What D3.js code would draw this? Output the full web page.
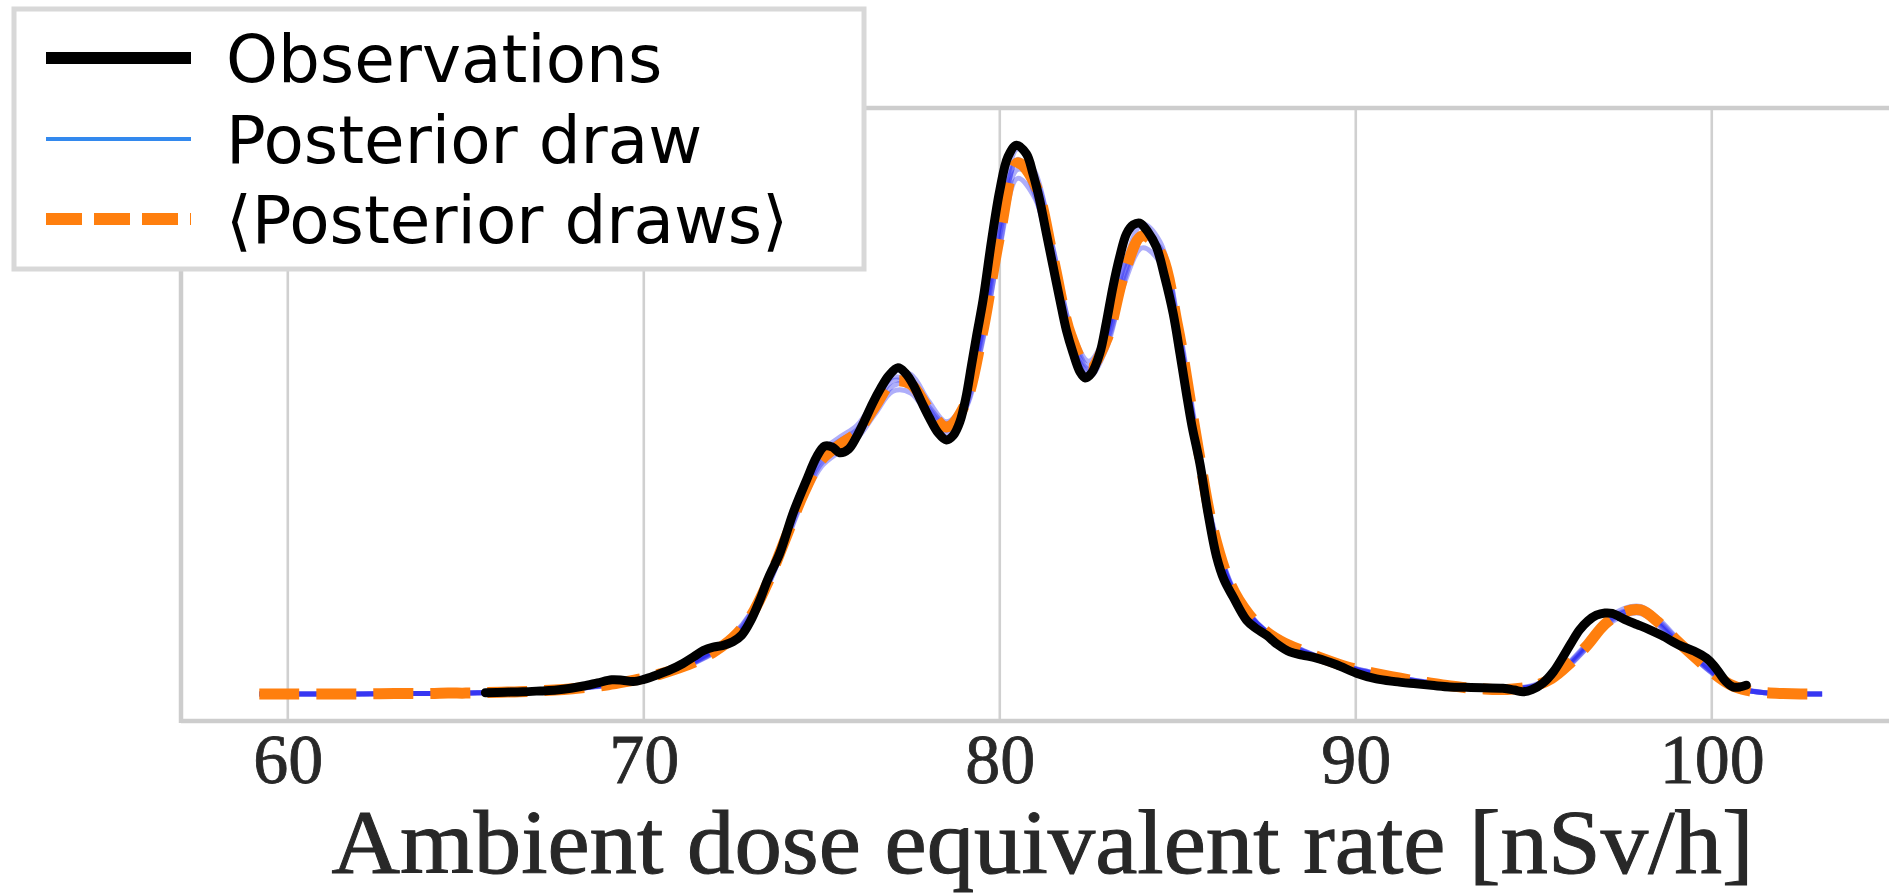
<!DOCTYPE html>
<html>
<head>
<meta charset="utf-8">
<script src="https://cdn.jsdelivr.net/npm/d3@7"></script>
<style>
  html, body { margin: 0; padding: 0; background: #ffffff; }
  svg { display: block; }
</style>
</head>
<body>
<script>
// Dose-rate density: observed KDE, posterior draws and their mean.

// Common evaluation grid for the model curves (nSv/h)
const gridX = [
  59.2, 60, 61, 62, 63, 64, 64.5, 65, 65.5, 66,
  66.5, 67, 67.5, 68, 68.5, 69, 69.5, 70, 70.5, 71,
  71.5, 72, 72.5, 73, 73.5, 74, 74.5, 75, 75.5, 76,
  76.5, 77, 77.5, 78, 78.5, 79, 79.5, 80, 80.5, 81,
  81.5, 82, 82.5, 83, 83.5, 84, 84.5, 85, 85.5, 86,
  86.5, 87, 87.5, 88, 88.5, 89, 89.5, 90, 90.5, 91,
  91.5, 92, 92.5, 93, 93.5, 94, 94.5, 95, 95.5, 96,
  96.5, 97, 97.5, 98, 98.5, 99, 99.5, 100, 100.5, 101,
  101.5, 102, 102.5, 103.1
];

// Mean of the posterior draws
const meanDraws = [
  0.0000, 0.0000, 0.0000, 0.0000, 0.0001, 0.0001, 0.0002, 0.0002, 0.0003, 0.0004,
  0.0005, 0.0007, 0.0009, 0.0012, 0.0016, 0.0021, 0.0028, 0.0036, 0.0046, 0.0059,
  0.0075, 0.0097, 0.0127, 0.0175, 0.0255, 0.0355, 0.0455, 0.0530, 0.0563, 0.0592,
  0.0650, 0.0705, 0.0700, 0.0645, 0.0603, 0.0650, 0.0810, 0.1035, 0.1200, 0.1150,
  0.0985, 0.0810, 0.0735, 0.0800, 0.0950, 0.1035, 0.1000, 0.0830, 0.0590, 0.0370,
  0.0245, 0.0180, 0.0140, 0.0115, 0.0098, 0.0082, 0.0068, 0.0056, 0.0047, 0.0039,
  0.0032, 0.0026, 0.0020, 0.0015, 0.0012, 0.0010, 0.0012, 0.0018, 0.0035, 0.0068,
  0.0110, 0.0158, 0.0184, 0.0190, 0.0162, 0.0122, 0.0085, 0.0050, 0.0022, 0.0008,
  0.0003, 0.0001, 0.0000, 0.0000
];

// Individual posterior draws
const drawA = [
  0.0000, 0.0000, 0.0000, 0.0000, 0.0001, 0.0001, 0.0002, 0.0002, 0.0003, 0.0004,
  0.0005, 0.0007, 0.0010, 0.0013, 0.0017, 0.0022, 0.0029, 0.0037, 0.0047, 0.0060,
  0.0078, 0.0101, 0.0133, 0.0183, 0.0265, 0.0368, 0.0470, 0.0548, 0.0580, 0.0608,
  0.0668, 0.0728, 0.0722, 0.0662, 0.0615, 0.0660, 0.0822, 0.1060, 0.1232, 0.1178,
  0.1005, 0.0825, 0.0752, 0.0818, 0.0972, 0.1062, 0.1022, 0.0840, 0.0592, 0.0368,
  0.0243, 0.0179, 0.0141, 0.0116, 0.0099, 0.0083, 0.0069, 0.0057, 0.0048, 0.0040,
  0.0033, 0.0027, 0.0021, 0.0016, 0.0012, 0.0010, 0.0012, 0.0019, 0.0036, 0.0070,
  0.0113, 0.0164, 0.0192, 0.0198, 0.0170, 0.0128, 0.0088, 0.0052, 0.0023, 0.0008,
  0.0003, 0.0001, 0.0000, 0.0000
];
const drawB = [
  0.0000, 0.0000, 0.0000, 0.0000, 0.0001, 0.0001, 0.0001, 0.0002, 0.0003, 0.0004,
  0.0005, 0.0006, 0.0008, 0.0011, 0.0015, 0.0020, 0.0026, 0.0034, 0.0044, 0.0057,
  0.0073, 0.0094, 0.0122, 0.0168, 0.0246, 0.0344, 0.0442, 0.0515, 0.0548, 0.0578,
  0.0633, 0.0684, 0.0680, 0.0628, 0.0588, 0.0638, 0.0795, 0.1010, 0.1165, 0.1118,
  0.0962, 0.0792, 0.0716, 0.0782, 0.0928, 0.1008, 0.0975, 0.0818, 0.0585, 0.0372,
  0.0247, 0.0181, 0.0139, 0.0113, 0.0096, 0.0080, 0.0066, 0.0055, 0.0046, 0.0038,
  0.0031, 0.0025, 0.0019, 0.0014, 0.0011, 0.0010, 0.0012, 0.0017, 0.0033, 0.0065,
  0.0106, 0.0151, 0.0176, 0.0182, 0.0156, 0.0118, 0.0082, 0.0048, 0.0021, 0.0008,
  0.0003, 0.0001, 0.0000, 0.0000
];
const drawC = [
  0.0000, 0.0000, 0.0000, 0.0000, 0.0001, 0.0001, 0.0002, 0.0002, 0.0003, 0.0004,
  0.0005, 0.0007, 0.0009, 0.0012, 0.0016, 0.0021, 0.0028, 0.0036, 0.0047, 0.0060,
  0.0077, 0.0100, 0.0131, 0.0182, 0.0266, 0.0366, 0.0462, 0.0540, 0.0572, 0.0598,
  0.0662, 0.0716, 0.0702, 0.0640, 0.0596, 0.0662, 0.0840, 0.1062, 0.1205, 0.1125,
  0.0955, 0.0792, 0.0728, 0.0812, 0.0968, 0.1040, 0.0985, 0.0810, 0.0575, 0.0362,
  0.0242, 0.0178, 0.0139, 0.0114, 0.0097, 0.0081, 0.0067, 0.0055, 0.0046, 0.0038,
  0.0031, 0.0025, 0.0020, 0.0015, 0.0012, 0.0011, 0.0013, 0.0020, 0.0038, 0.0072,
  0.0115, 0.0162, 0.0186, 0.0188, 0.0158, 0.0118, 0.0082, 0.0048, 0.0021, 0.0008,
  0.0003, 0.0001, 0.0000, 0.0000
];
const drawD = [
  0.0000, 0.0000, 0.0000, 0.0000, 0.0001, 0.0001, 0.0001, 0.0002, 0.0003, 0.0003,
  0.0004, 0.0006, 0.0008, 0.0011, 0.0015, 0.0020, 0.0027, 0.0035, 0.0045, 0.0058,
  0.0074, 0.0095, 0.0124, 0.0170, 0.0246, 0.0345, 0.0448, 0.0522, 0.0556, 0.0588,
  0.0640, 0.0696, 0.0700, 0.0650, 0.0610, 0.0640, 0.0790, 0.1012, 0.1185, 0.1160,
  0.1005, 0.0822, 0.0740, 0.0792, 0.0935, 0.1030, 0.1010, 0.0845, 0.0602, 0.0378,
  0.0248, 0.0182, 0.0141, 0.0116, 0.0099, 0.0083, 0.0069, 0.0057, 0.0048, 0.0040,
  0.0033, 0.0027, 0.0021, 0.0016, 0.0012, 0.0010, 0.0011, 0.0016, 0.0032, 0.0064,
  0.0105, 0.0153, 0.0182, 0.0192, 0.0166, 0.0126, 0.0088, 0.0052, 0.0023, 0.0009,
  0.0003, 0.0001, 0.0000, 0.0000
];
const drawE = [
  0.0000, 0.0000, 0.0000, 0.0000, 0.0001, 0.0001, 0.0002, 0.0002, 0.0003, 0.0004,
  0.0005, 0.0007, 0.0009, 0.0012, 0.0016, 0.0021, 0.0028, 0.0036, 0.0046, 0.0059,
  0.0075, 0.0098, 0.0128, 0.0176, 0.0256, 0.0354, 0.0456, 0.0532, 0.0566, 0.0594,
  0.0652, 0.0708, 0.0698, 0.0644, 0.0604, 0.0652, 0.0812, 0.1038, 0.1208, 0.1152,
  0.0982, 0.0808, 0.0734, 0.0798, 0.0948, 0.1036, 0.1002, 0.0832, 0.0592, 0.0370,
  0.0245, 0.0180, 0.0140, 0.0115, 0.0098, 0.0082, 0.0068, 0.0056, 0.0047, 0.0039,
  0.0032, 0.0026, 0.0020, 0.0015, 0.0012, 0.0010, 0.0012, 0.0018, 0.0035, 0.0068,
  0.0110, 0.0158, 0.0184, 0.0190, 0.0162, 0.0122, 0.0085, 0.0050, 0.0022, 0.0008,
  0.0003, 0.0001, 0.0000, 0.0000
];

// Observed density
const obsX = [
  65.55, 66.1, 66.6, 67.1, 67.55, 67.95, 68.3, 68.7, 69.1, 69.4,
  69.7, 70.0, 70.36, 70.75, 71.1, 71.4, 71.67, 71.95, 72.23, 72.5,
  72.75, 73.0, 73.25, 73.5, 73.82, 74.2, 74.57, 74.85, 75.08, 75.3,
  75.5, 75.75, 75.97, 76.2, 76.43, 76.65, 76.87, 77.14, 77.35, 77.56,
  77.8, 78.03, 78.27, 78.5, 78.7, 78.88, 79.05, 79.2, 79.35, 79.53,
  79.77, 80.0, 80.23, 80.47, 80.75, 80.93, 81.12, 81.31, 81.5, 81.69,
  81.87, 82.06, 82.25, 82.4, 82.58, 82.81, 82.99, 83.18, 83.37, 83.56,
  83.75, 83.93, 84.16, 84.4, 84.63, 84.87, 85.06, 85.24, 85.4, 85.62,
  85.85, 86.09, 86.3, 86.55, 86.93, 87.2, 87.49, 87.8, 88.15, 88.5,
  88.9, 89.46, 90.02, 90.58, 91.1, 91.7, 92.2, 92.64, 93.1, 93.57,
  94.13, 94.45, 94.7, 94.95, 95.26, 95.55, 95.82, 96.05, 96.29, 96.52,
  96.76, 97.0, 97.2, 97.4, 97.6, 97.9, 98.26, 98.6, 99.1, 99.5,
  99.85, 100.05, 100.22, 100.4, 100.6, 100.8, 100.97
];
const obsY = [
  0.0003, 0.0004, 0.0005, 0.0007, 0.0009, 0.0013, 0.0018, 0.0025, 0.0032, 0.0031,
  0.0028, 0.0033, 0.0043, 0.0055, 0.0069, 0.0084, 0.0098, 0.0106, 0.0110, 0.0118,
  0.0133, 0.0165, 0.0210, 0.0262, 0.0318, 0.0410, 0.0483, 0.0535, 0.0560, 0.0558,
  0.0545, 0.0553, 0.0580, 0.0617, 0.0657, 0.0690, 0.0718, 0.0737, 0.0725, 0.0700,
  0.0660, 0.0623, 0.0590, 0.0574, 0.0585, 0.0615, 0.0670, 0.0740, 0.0810, 0.0890,
  0.1025, 0.1138, 0.1214, 0.1240, 0.1220, 0.1176, 0.1116, 0.1040, 0.0965, 0.0890,
  0.0822, 0.0770, 0.0728, 0.0714, 0.0725, 0.0770, 0.0838, 0.0920, 0.0988, 0.1040,
  0.1060, 0.1064, 0.1044, 0.1010, 0.0943, 0.0860, 0.0770, 0.0680, 0.0605, 0.0521,
  0.0408, 0.0310, 0.0258, 0.0220, 0.0167, 0.0148, 0.0133, 0.0112, 0.0095, 0.0088,
  0.0081, 0.0066, 0.0047, 0.0034, 0.0028, 0.0023, 0.0019, 0.0016, 0.0015, 0.0014,
  0.0013, 0.0009, 0.0005, 0.0010, 0.0025, 0.0050, 0.0084, 0.0115, 0.0145, 0.0165,
  0.0178, 0.0183, 0.0182, 0.0175, 0.0167, 0.0157, 0.0145, 0.0132, 0.0110, 0.0097,
  0.0081, 0.0065, 0.0047, 0.0028, 0.0016, 0.0016, 0.0020
];

const xTicks = [60, 70, 80, 90, 100];
const xLabel = "Ambient dose equivalent rate [nSv/h]";
const legendLabels = ["Observations", "Posterior draw", "\u27E8Posterior draws\u27E9"];

const W = 1889, H = 894;
const svg = d3.select("body").append("svg")
  .attr("width", W).attr("height", H)
  .attr("viewBox", `0 0 ${W} ${H}`);

const plot = { left: 181, right: 1904, top: 108, bottom: 721 };

const x = d3.scaleLinear().domain([57.0, 105.4]).range([plot.left, plot.right]);
const y = d3.scaleLinear().domain([-0.0061, 0.1324]).range([plot.bottom, plot.top]);

// vertical grid
svg.append("g").selectAll("line").data(xTicks).join("line")
  .attr("x1", d => x(d)).attr("x2", d => x(d))
  .attr("y1", plot.top).attr("y2", plot.bottom)
  .attr("stroke", "#d0d0d0").attr("stroke-width", 2.6);

// axes frame
const spine = svg.append("g").attr("stroke", "#cdcdcd").attr("stroke-width", 4.5).attr("fill", "none");
spine.append("line").attr("x1", plot.left).attr("x2", plot.left).attr("y1", plot.top - 2).attr("y2", plot.bottom + 2);
spine.append("line").attr("x1", plot.left).attr("x2", plot.right).attr("y1", plot.bottom).attr("y2", plot.bottom);
spine.append("line").attr("x1", plot.left).attr("x2", plot.right).attr("y1", plot.top).attr("y2", plot.top);

// tick labels
const serif = "'Liberation Serif', 'DejaVu Serif', serif";
const xAxis = d3.axisBottom(x).tickValues(xTicks).tickSize(0).tickFormat(d3.format("d"));
const gx = svg.append("g").attr("transform", `translate(0,${plot.bottom})`).call(xAxis);
gx.select(".domain").remove();
gx.selectAll("text")
  .attr("y", 62).attr("dy", null)
  .attr("fill", "#282828")
  .attr("stroke", "#282828").attr("stroke-width", 0.8)
  .style("font-family", serif)
  .style("font-size", "70px");

// axis title
svg.append("text")
  .attr("x", (plot.left + plot.right) / 2).attr("y", 873)
  .attr("text-anchor", "middle")
  .attr("textLength", 1422).attr("lengthAdjust", "spacingAndGlyphs")
  .attr("fill", "#282828")
  .attr("stroke", "#282828").attr("stroke-width", 1)
  .style("font-family", serif)
  .style("font-size", "90px")
  .text(xLabel);

const curve = d3.curveCatmullRom.alpha(0.5);
const modelLine = d3.line().x((d, i) => x(gridX[i])).y(d => y(d)).curve(curve);

// posterior draws
const draws = [drawA, drawB, drawC, drawD, drawE];
svg.append("g").selectAll("path").data(draws).join("path")
  .attr("d", d => modelLine(d))
  .attr("fill", "none")
  .attr("stroke", "#1e1ef2")
  .attr("stroke-opacity", 0.36)
  .attr("stroke-width", 5)
  .attr("stroke-linejoin", "round");

// mean of draws
svg.append("path")
  .attr("d", modelLine(meanDraws))
  .attr("fill", "none")
  .attr("stroke", "#ff7f0e")
  .attr("stroke-width", 11)
  .attr("stroke-dasharray", "40 17")
  .attr("stroke-linejoin", "round");

// observations
const obsLine = d3.line().x(d => x(d[0])).y(d => y(d[1])).curve(curve);
svg.append("path")
  .attr("d", obsLine(obsX.map((v, i) => [v, obsY[i]])))
  .attr("fill", "none")
  .attr("stroke", "#000000")
  .attr("stroke-width", 9)
  .attr("stroke-linejoin", "round")
  .attr("stroke-linecap", "round");

// legend
const leg = svg.append("g");
leg.append("rect")
  .attr("x", 14).attr("y", 9).attr("width", 850).attr("height", 260)
  .attr("fill", "#ffffff").attr("stroke", "#d8d8d8").attr("stroke-width", 5);

const rowsY = [58, 139, 219];
const hx0 = 46, hx1 = 191;
leg.append("line").attr("x1", hx0).attr("x2", hx1).attr("y1", rowsY[0]).attr("y2", rowsY[0])
  .attr("stroke", "#000000").attr("stroke-width", 12);
leg.append("line").attr("x1", hx0).attr("x2", hx1).attr("y1", rowsY[1]).attr("y2", rowsY[1])
  .attr("stroke", "#3389ee").attr("stroke-width", 4);
leg.append("line").attr("x1", hx0).attr("x2", hx1).attr("y1", rowsY[2]).attr("y2", rowsY[2])
  .attr("stroke", "#ff7f0e").attr("stroke-width", 12).attr("stroke-dasharray", "36 12");

leg.selectAll("text.lab").data(legendLabels).join("text")
  .attr("class", "lab")
  .attr("x", 226)
  .attr("y", (d, i) => rowsY[i] + 24)
  .attr("fill", "#000000")
  .style("font-family", "'DejaVu Sans', sans-serif")
  .style("font-size", "66px")
  .text(d => d);
</script>
</body>
</html>
